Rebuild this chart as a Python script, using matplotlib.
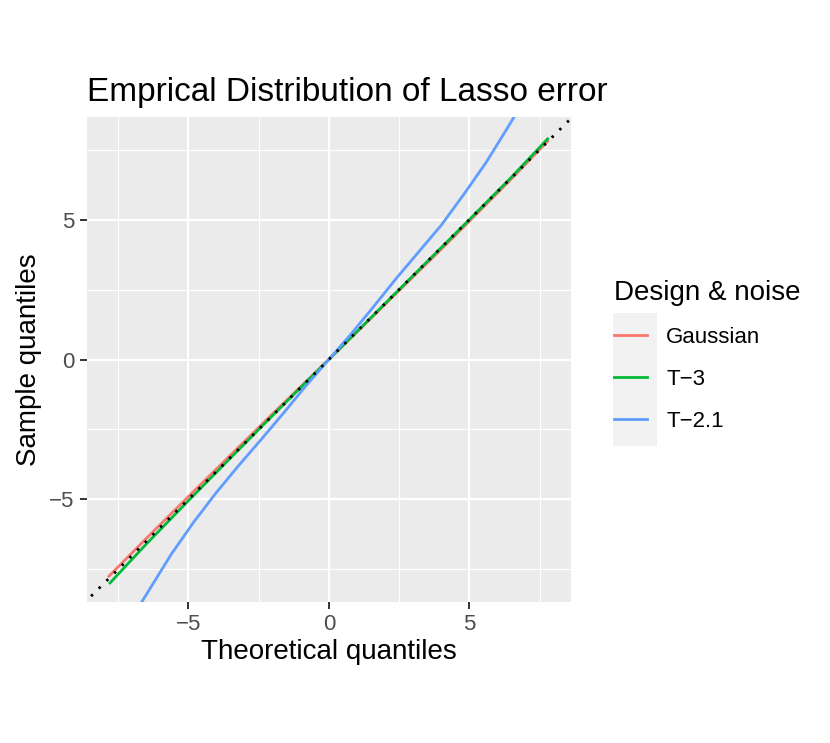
import matplotlib.pyplot as plt
from matplotlib.patches import Rectangle
from matplotlib.lines import Line2D

plt.rcParams['font.family'] = ['Liberation Sans', 'DejaVu Sans']

# quantile pairs
gauss_x = [-7.82, -6.5, -5.0, -3.5, -2.0, -1.0, 0.0, 1.0, 2.0, 3.5, 4.5, 5.5, 6.5, 7.78]
gauss_y = [-7.74, -6.4, -4.9, -3.42, -1.94, -0.97, 0.0, 0.98, 1.97, 3.45, 4.44, 5.45, 6.46, 7.8]

t3_x = [-7.78, -6.5, -5.0, -3.5, -2.0, -1.0, 0.0, 1.0, 2.0, 3.5, 5.0, 6.5, 7.78]
t3_y = [-7.98, -6.6, -5.05, -3.52, -2.0, -1.0, 0.0, 1.0, 2.0, 3.5, 5.0, 6.52, 7.88]

t21_x = [-8.0, -7.2, -6.4, -5.6, -4.8, -4.0, -3.2, -2.4, -1.6, -0.8, 0.0,
         0.8, 1.6, 2.4, 3.2, 4.0, 4.8, 5.6, 6.4, 7.2, 8.0]
t21_y = [-11.0, -9.55, -8.25, -6.95, -5.8, -4.75, -3.78, -2.85, -1.9, -0.92, 0.0,
         0.92, 1.9, 2.9, 3.85, 4.8, 5.9, 7.05, 8.35, 9.7, 11.2]

labels = ['Gaussian', 'T\u22123', 'T\u22122.1']
colors = ['#F8766D', '#00BA38', '#619CFF']

fig = plt.figure(figsize=(8.3, 7.43), dpi=100)
ax = fig.add_axes([0.1048, 0.1902, 0.5828, 0.6519])
ax.set_facecolor('#EBEBEB')

for v in [-7.5, -2.5, 2.5, 7.5]:
    ax.axvline(v, color='white', lw=0.8, zorder=0)
    ax.axhline(v, color='white', lw=0.8, zorder=0)
for v in [-5, 0, 5]:
    ax.axvline(v, color='white', lw=1.6, zorder=0)
    ax.axhline(v, color='white', lw=1.6, zorder=0)

ax.plot(gauss_x, gauss_y, color=colors[0], lw=2.0)
ax.plot(t3_x, t3_y, color=colors[1], lw=2.0)
ax.plot(t21_x, t21_y, color=colors[2], lw=2.0)
ax.plot([-9, 9], [-9, 9], color='black', lw=2.0, linestyle=(0, (0.9, 3.0)))

ax.set_xlim(-8.6, 8.6)
ax.set_ylim(-8.65, 8.65)
ax.set_xticks([-5, 0, 5])
ax.set_yticks([-5, 0, 5])
ax.tick_params(labelsize=16, labelcolor='#4D4D4D', color='#333333', length=5, width=1.4, pad=4)
for s in ax.spines.values():
    s.set_visible(False)

ax.set_xlabel('Theoretical quantiles', fontsize=20, labelpad=3)
ax.set_ylabel('Sample quantiles', fontsize=20, labelpad=5)
ax.set_title('Emprical Distribution of Lasso error', fontsize=24, loc='left', pad=12)

handles = [Line2D([], [], color=c, lw=2.0) for c in colors]
fig.patches.append(Rectangle((613 / 830, 1 - 446 / 743), 44 / 830, 133 / 743,
                             transform=fig.transFigure, facecolor='#F2F2F2', edgecolor='none', zorder=0))
leg = fig.legend(handles, labels, loc='upper left', bbox_to_anchor=(605 / 830, 1 - 271 / 743),
                 frameon=False, fontsize=16, title='Design & noise', title_fontsize=20,
                 handlelength=1.5, handletextpad=0.85, labelspacing=0.95, borderaxespad=0)
leg._legend_box.align = 'left'

fig.savefig('out.png', dpi=100)
